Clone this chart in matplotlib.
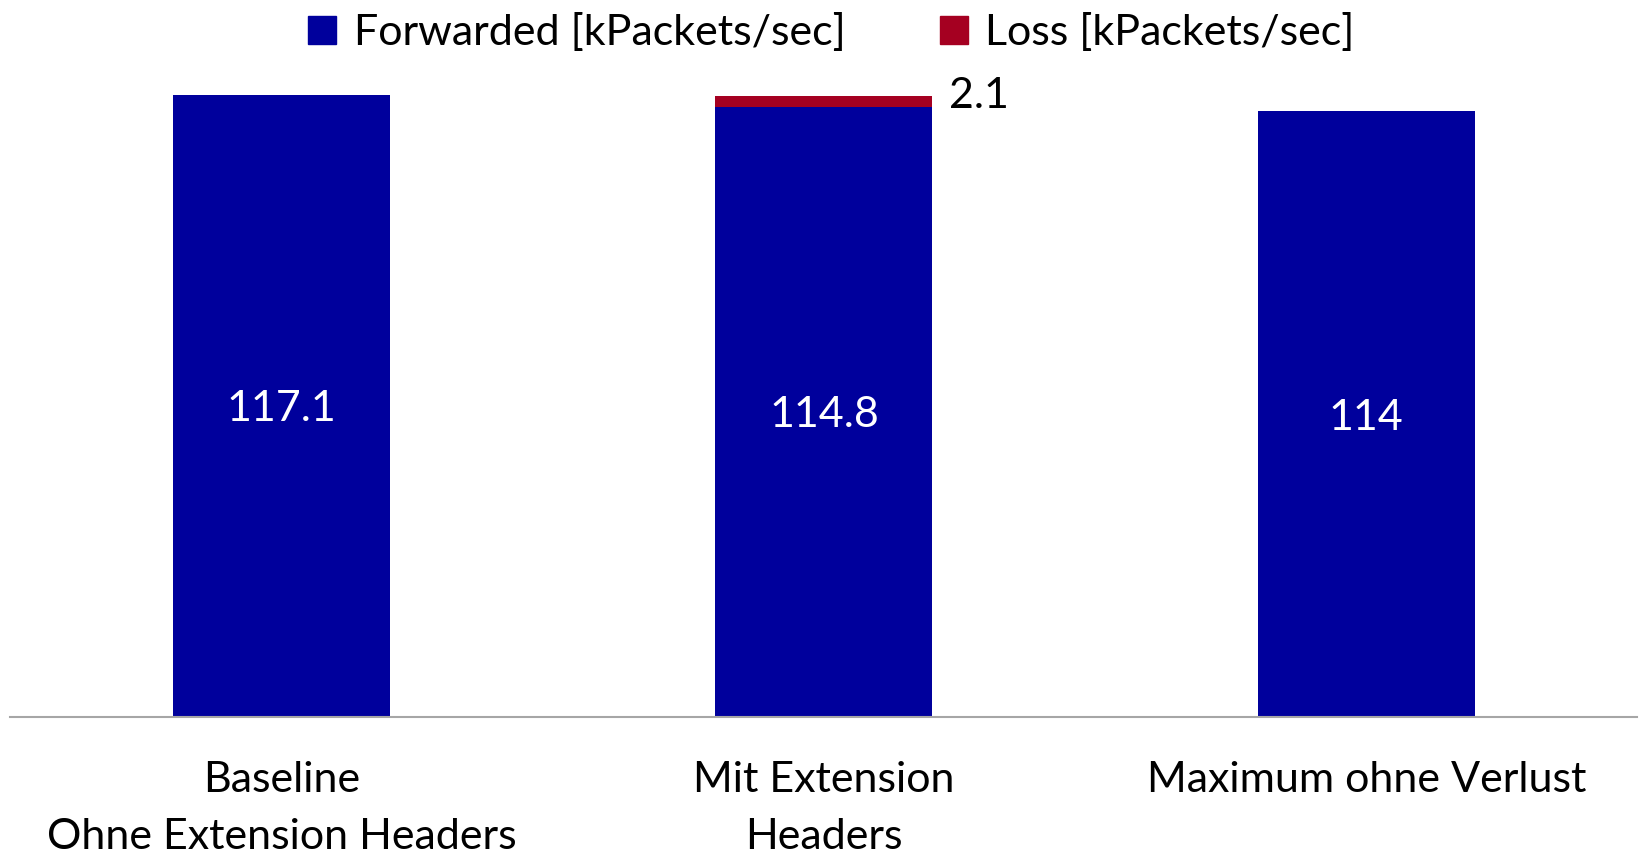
import numpy as np
import matplotlib.pyplot as plt
from matplotlib.patches import Patch

# --- data ---
categories = ["Baseline\nOhne Extension Headers", "Mit Extension\nHeaders", "Maximum ohne Verlust"]
forwarded = [117.1, 114.8, 114]
loss = [0, 2.1, 0]
series_names = ["Forwarded [kPackets/sec]", "Loss [kPackets/sec]"]

blue = "#00009C"
red = "#A50021"

plt.rcParams['font.family'] = ['Lato', 'DejaVu Sans']
fs = 31

fig = plt.figure(figsize=(16.4, 8.57), dpi=100)
ax = fig.add_axes([0.0064, 0.1634, 0.992, 0.7725])

x = np.arange(len(categories))
w = 0.4
ax.bar(x, forwarded, width=w, color=blue)
ax.bar(x, loss, width=w, bottom=forwarded, color=red)

# value labels
for i, v in enumerate(forwarded):
    ax.text(x[i], v / 2, f"{v:g}", ha='center', va='center_baseline', color='white', fontsize=fs)
for i, v in enumerate(loss):
    if v > 0:
        ax.annotate(f"{v:g}", xy=(x[i] + w / 2, forwarded[i] + v), xytext=(12, 0),
                    textcoords='offset points', ha='left', va='center', fontsize=fs)

ax.set_xlim(-0.5, len(categories) - 0.5)
ax.set_ylim(0, 124.6)
ax.set_xticks(x)
ax.set_xticklabels(categories, fontsize=fs, linespacing=1.6)
ax.tick_params(axis='x', length=0, pad=32)
ax.set_yticks([])
for s in ['top', 'right', 'left']:
    ax.spines[s].set_visible(False)
ax.spines['bottom'].set_color('#A6A6A6')
ax.spines['bottom'].set_linewidth(1.5)

handles = [Patch(color=blue), Patch(color=red)]
fig.legend(handles, series_names, loc='upper center', bbox_to_anchor=(0.507, 1.03),
           ncol=2, frameon=False, fontsize=fs, handlelength=0.65, handleheight=0.65,
           handletextpad=0.4, columnspacing=2.2)

fig.savefig('out.png', dpi=100)
